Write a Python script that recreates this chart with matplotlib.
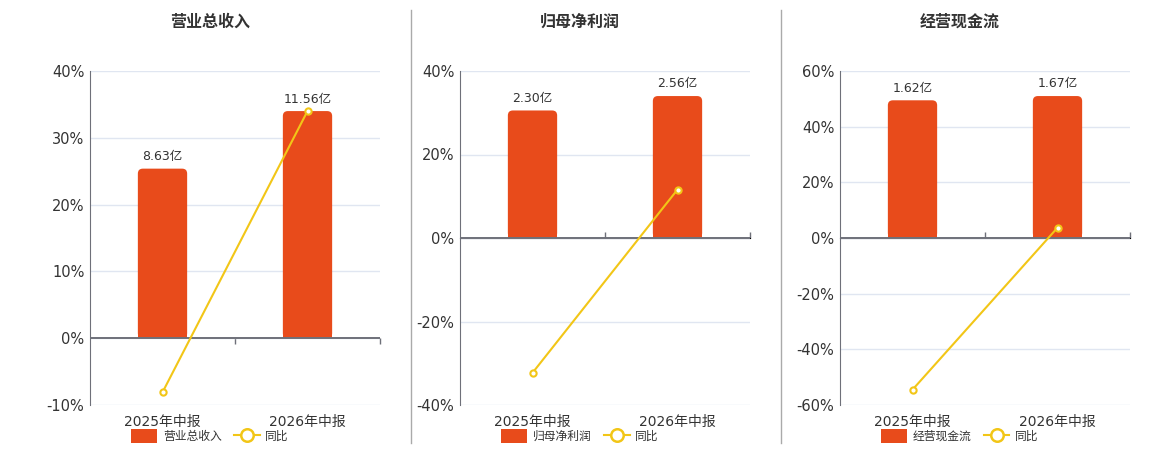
import matplotlib.pyplot as plt
from matplotlib.lines import Line2D
from matplotlib.patches import Patch, FancyBboxPatch

plt.rcParams['font.family'] = ['DejaVu Sans', 'Noto Sans CJK SC']

# datos
periodos = ['2025年中报', '2026年中报']
titulos = ['营业总收入', '归母净利润', '经营现金流']
valores = [[8.63, 11.56], [2.30, 2.56], [1.62, 1.67]]
etiquetas = [['8.63亿', '11.56亿'], ['2.30亿', '2.56亿'], ['1.62亿', '1.67亿']]
tongbi = [[-8.1, 34.0], [-32.3, 11.6], [-54.5, 3.7]]
ylims = [(-10, 40), (-40, 40), (-60, 60)]
yticks = [[-10, 0, 10, 20, 30, 40], [-40, -20, 0, 20, 40], [-60, -40, -20, 0, 20, 40, 60]]

color_barra = '#E84B1B'
color_linea = '#F2C617'
color_eje = '#6E7079'
color_grid = '#E0E6F1'

W, H = 1160, 450
AW, AH = 290, 334
fig = plt.figure(figsize=(W / 100, H / 100), dpi=100)

izquierdas = [90, 460, 840]
centros = [210, 580, 960]
x = [0, 1]

for i in range(3):
    ax = fig.add_axes([izquierdas[i] / W, 45 / H, AW / W, AH / H])
    lo, hi = ylims[i]
    ax.set_ylim(lo, hi)
    ax.set_xlim(-0.5, 1.5)
    ax.set_yticks(yticks[i])
    ax.set_yticklabels([f'{t}%' for t in yticks[i]])
    ax.grid(axis='y', color=color_grid, lw=1)
    ax.set_axisbelow(True)
    for s in ['top', 'right', 'bottom']:
        ax.spines[s].set_visible(False)
    ax.spines['left'].set_color(color_eje)
    ax.tick_params(axis='y', length=0, labelsize=10.5, labelcolor='#333333', pad=4)
    ax.set_xticks(x)
    ax.set_xticklabels(periodos)
    ax.tick_params(axis='x', length=0, labelsize=10, labelcolor='#333333', pad=7)

    # marcas entre categorias sobre el cero
    frac0 = (0 - lo) / (hi - lo)
    sec = ax.secondary_xaxis(frac0)
    sec.set_xticks([0.5, 1.5])
    sec.set_xticklabels([])
    sec.tick_params(length=4, color=color_eje, width=1)
    sec.spines['bottom'].set_visible(False)

    # barras en eje oculto con el cero alineado
    axb = ax.twinx()
    top = max(valores[i]) / 0.85
    bottom = -top * frac0 / (1 - frac0)
    axb.set_ylim(bottom, top)
    axb.set_xlim(-0.5, 1.5)
    axb.axis('off')
    xu = 2.0 / AW
    yu = (top - bottom) / AH
    barras = axb.bar(x, valores[i], width=0.34, color=color_barra, zorder=2)
    for b, lab in zip(barras, etiquetas[i]):
        h = b.get_height()
        axb.annotate(lab, (b.get_x() + b.get_width() / 2, h),
                     xytext=(0, 4), textcoords='offset points',
                     ha='center', va='bottom', fontsize=9, color='#333333')
        # esquinas superiores redondeadas
        axb.add_patch(FancyBboxPatch((b.get_x(), 0), b.get_width(), h,
                                     boxstyle=f'round,pad=0,rounding_size={5 * xu}',
                                     mutation_aspect=yu / xu,
                                     facecolor=color_barra, edgecolor='none', zorder=2))
        b.set_height(h / 2)

    # linea de crecimiento encima
    axl = ax.twinx()
    axl.set_ylim(lo, hi)
    axl.set_xlim(-0.5, 1.5)
    axl.axis('off')
    axl.axhline(0, color=color_eje, lw=1.4, zorder=1)
    axl.plot(x, tongbi[i], color=color_linea, lw=1.5, marker='o', ms=4.5,
             mfc='white', mec=color_linea, mew=1.5, zorder=3)

    fig.text(centros[i] / W, 1 - 22 / H, titulos[i], ha='center', va='center',
             fontsize=11.5, fontweight='bold', color='#333333')

    handles = [Patch(facecolor=color_barra, edgecolor='none'),
               Line2D([0], [0], color=color_linea, lw=1.5, marker='o', ms=9,
                      mfc='white', mec=color_linea, mew=1.8)]
    fig.legend(handles, [titulos[i], '同比'], loc='center',
               bbox_to_anchor=(centros[i] / W, 1 - 436 / H), ncol=2,
               frameon=False, fontsize=8.5, handlelength=2.2, handleheight=1.4,
               columnspacing=1.0, handletextpad=0.5, labelcolor='#333333')

# separadores entre graficos
for xs in [410.5, 780.5]:
    fig.add_artist(Line2D([xs / W, xs / W], [7 / H, 440 / H], color='#AAAAAA', lw=1))

plt.savefig('out.png', dpi=100)
